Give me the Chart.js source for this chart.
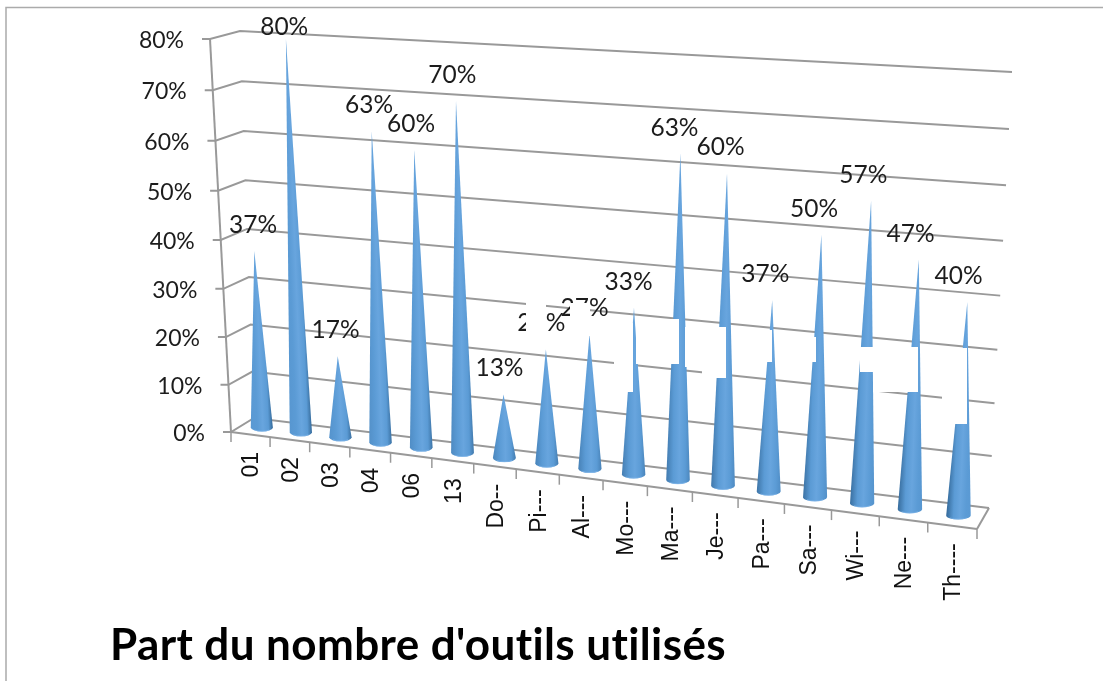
<!DOCTYPE html>
<html>
<head>
<meta charset="utf-8">
<style>html,body{margin:0;padding:0;background:#fff}canvas{display:block}</style>
<script src="https://cdn.jsdelivr.net/npm/chart.js@4"></script>
</head>
<body>
<canvas id="c" width="1103" height="681"></canvas>
<script>
const categories = ["01","02","03","04","06","13","Do--","Pi---","Al---","Mo---","Ma---","Je---","Pa---","Sa---","Wi---","Ne---","Th----"];
const shares = [37,80,17,63,60,70,13,23,27,33,63,60,37,50,57,47,40];
const yTicks = [0,10,20,30,40,50,60,70,80];
const chartTitle = "Part du nombre d'outils utilisés";

function homography(q){
  const [p0,p1,p2,p3]=q;
  const dx1=p1[0]-p2[0],dx2=p3[0]-p2[0],sx=p0[0]-p1[0]+p2[0]-p3[0];
  const dy1=p1[1]-p2[1],dy2=p3[1]-p2[1],sy=p0[1]-p1[1]+p2[1]-p3[1];
  const den=dx1*dy2-dx2*dy1;
  const g=(sx*dy2-dx2*sy)/den,h=(dx1*sy-sx*dy1)/den;
  const a=p1[0]-p0[0]+g*p1[0],b=p3[0]-p0[0]+h*p3[0],c=p0[0];
  const d=p1[1]-p0[1]+g*p1[1],e=p3[1]-p0[1]+h*p3[1],f=p0[1];
  return (u,v)=>{const w=g*u+h*v+1;return [(a*u+b*v+c)/w,(d*u+e*v+f)/w];};
}
// corner order: floor-left, floor-right, top-right, top-left
const frontPlane=homography([[231,432],[977,529],[993,87],[210,39]]);
const backPlane=homography([[254,418],[989,508],[1012,72],[240,31]]);
function project(u,v,depth){
  const a=frontPlane(u,v),b=backPlane(u,v);
  return [a[0]+(b[0]-a[0])*depth,a[1]+(b[1]-a[1])*depth];
}
const GRID='#999999';
const TEXT='#1c1c1c';
// white retouching blocks that sit on top of the original picture
const whiteBlocks=[[526,298,20,44],[570,303,20,33],[614,323,19,69],[636,319,43,45],[685,327,41,40],[702,367,24,11],
  [763,330,9,32],[809,337,7,25],[860,347,58,25],[873,347,45,45],[942,348,25,76]];

function line(ctx,a,b){ctx.beginPath();ctx.moveTo(a[0],a[1]);ctx.lineTo(b[0],b[1]);ctx.stroke();}

const cone3d={
  id:'cone3d',
  beforeDatasetsDraw(chart){
    const {ctx,scales:{y},chartArea:ca}=chart;
    ctx.save();
    // frame of the picture
    ctx.strokeStyle='#ababab';ctx.lineWidth=1.5;
    ctx.beginPath();ctx.moveTo(6,681);ctx.lineTo(6,7.5);ctx.lineTo(1103,7.5);ctx.stroke();
    ctx.strokeStyle=GRID;ctx.lineWidth=2;
    // gridlines, side wall and value ticks
    y.ticks.forEach(t=>{
      const v=(ca.bottom-y.getPixelForValue(t.value))/(ca.bottom-ca.top);
      const f=project(0,v,0),bl=project(0,v,1),br=project(1,v,1);
      ctx.beginPath();ctx.moveTo(f[0]-8,f[1]);ctx.lineTo(f[0],f[1]);ctx.lineTo(bl[0],bl[1]);ctx.lineTo(br[0],br[1]);ctx.stroke();
    });
    // left upright and floor edges
    line(ctx,project(0,0,0),project(0,1,0));
    line(ctx,project(0,0,0),project(1,0,0));
    line(ctx,project(1,0,0),project(1,0,1));
    // category ticks
    ctx.lineWidth=1.5;
    for(let i=0;i<=categories.length;i++){
      const p=project(i/categories.length,0,0);
      line(ctx,p,[p[0],p[1]+10]);
    }
    ctx.restore();
  },
  beforeDatasetDraw(chart,args){
    const {ctx,chartArea:ca}=chart;
    const w=ca.right-ca.left,h=ca.bottom-ca.top;
    ctx.save();
    args.meta.data.forEach(el=>{
      const u=(el.x-ca.left)/w,v=(ca.bottom-el.y)/h;
      const tip=project(u,v,.5),base=project(u,0,.5);
      const r=11+1.3*u,ry=4;
      const dy=tip[1]-base[1];
      ctx.save();
      ctx.transform(1,0,(tip[0]-base[0])/dy,1,base[0],base[1]);
      const g=ctx.createLinearGradient(-r,0,r,0);
      const mix=(k)=>`rgb(${Math.round(91-40*k)},${Math.round(155-52*k)},${Math.round(213-62*k)})`;
      g.addColorStop(0,mix(u));
      g.addColorStop(.3,'#5b9bd5');
      g.addColorStop(.55,'#68a5de');
      g.addColorStop(.8,'#5b9bd5');
      g.addColorStop(1,mix(1-u));
      ctx.fillStyle=g;
      ctx.beginPath();
      ctx.moveTo(0,dy);
      ctx.lineTo(r,0);
      ctx.ellipse(0,0,r,ry,0,0,Math.PI);
      ctx.closePath();
      ctx.fill();
      ctx.strokeStyle='rgba(125,180,232,.7)';ctx.lineWidth=1;
      ctx.beginPath();ctx.ellipse(0,0,r-.5,ry-.5,0,Math.PI*.25,Math.PI*.75);ctx.stroke();
      ctx.restore();
    });
    ctx.restore();
    return false;
  },
  afterDatasetsDraw(chart){
    const {ctx,scales:{y},chartArea:ca}=chart;
    const w=ca.right-ca.left,h=ca.bottom-ca.top;
    const meta=chart.getDatasetMeta(0);
    ctx.save();
    ctx.fillStyle=TEXT;ctx.font='23px Lato, sans-serif';ctx.textBaseline='middle';
    // value axis labels
    ctx.textAlign='right';
    y.ticks.forEach(t=>{
      const v=(ca.bottom-y.getPixelForValue(t.value))/(ca.bottom-ca.top);
      const f=project(0,v,0);
      ctx.fillText(t.value+'%',f[0]-26,f[1]+1.5);
    });
    // data labels
    ctx.font='24.5px Lato, sans-serif';
    ctx.textAlign='center';
    meta.data.forEach((el,i)=>{
      const u=(el.x-ca.left)/w,v=(ca.bottom-el.y)/h;
      const tip=project(u,v,.5);
      ctx.fillText(shares[i]+'%',tip[0]-1-8*u,Math.max(27,tip[1]-26));
    });
    // category labels
    ctx.fillStyle='#111';
    ctx.font='23px "Liberation Sans", sans-serif';
    ctx.textAlign='right';
    meta.data.forEach((el,i)=>{
      const p=project((el.x-ca.left)/w,0,0);
      ctx.save();
      ctx.translate(p[0]+1.5,p[1]+17.5);
      ctx.rotate(-Math.PI/2);
      ctx.fillText(categories[i],0,0);
      ctx.restore();
    });
    // white retouching
    ctx.fillStyle='#fff';
    whiteBlocks.forEach(b=>ctx.fillRect(b[0],b[1],b[2],b[3]));
    // title
    ctx.fillStyle='#000';
    ctx.font='bold 44px Lato, sans-serif';
    ctx.letterSpacing='0.4px';
    ctx.textAlign='left';ctx.textBaseline='alphabetic';
    ctx.fillText(chartTitle,110,660);
    ctx.letterSpacing='0px';
    ctx.restore();
  }
};

new Chart(document.getElementById('c'),{
  type:'bar',
  data:{labels:categories,datasets:[{label:chartTitle,data:shares,backgroundColor:'#5b9bd5'}]},
  options:{
    responsive:false,animation:false,
    layout:{padding:{left:231,right:126,top:39,bottom:249}},
    plugins:{legend:{display:false},title:{display:false},tooltip:{enabled:false}},
    scales:{
      x:{display:false},
      y:{display:false,min:0,max:80,afterBuildTicks(s){s.ticks=yTicks.map(value=>({value}));}}
    }
  },
  plugins:[cone3d]
});
</script>
</body>
</html>
